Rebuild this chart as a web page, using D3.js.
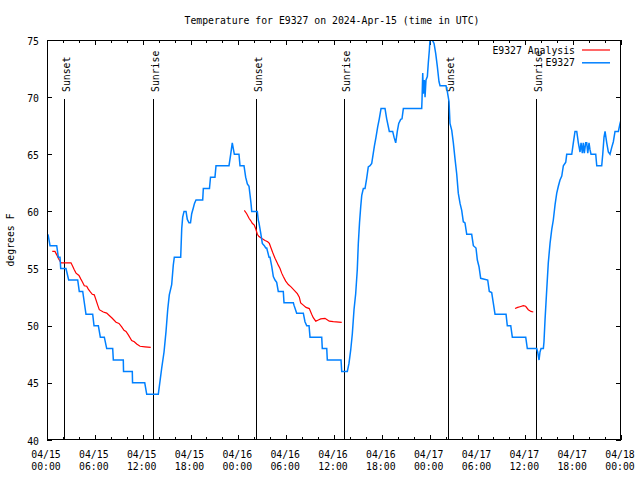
<!DOCTYPE html>
<html><head><meta charset="utf-8">
<script src="https://cdn.jsdelivr.net/npm/d3@7"></script>
<style>
body{margin:0;background:#fff}
svg text{font-family:"DejaVu Sans Mono",monospace;font-size:9.8px;fill:#000}
</style>
</head><body>
<svg id="chart" width="640" height="480"></svg>
<script>
const title = "Temperature for E9327 on 2024-Apr-15 (time in UTC)";
const yLabel = "degrees F";
const seriesNames = ["E9327 Analysis", "E9327"];
const seriesColors = ["#ff0000", "#0080ff"];

const xTickHours = [0, 6, 12, 18, 24, 30, 36, 42, 48, 54, 60, 66, 72];
const xTickDates = ["04/15","04/15","04/15","04/15","04/16","04/16","04/16","04/16","04/17","04/17","04/17","04/17","04/18"];
const xTickTimes = ["00:00","06:00","12:00","18:00","00:00","06:00","12:00","18:00","00:00","06:00","12:00","18:00","00:00"];
const xMinorHours = [2,4,8,10,14,16,20,22,26,28,32,34,38,40,44,46,50,52,56,58,62,64,68,70];
const yTicks = [40, 45, 50, 55, 60, 65, 70, 75];

const sunsetHours = [2.17, 26.22, 50.34];
const sunriseHours = [13.33, 37.3, 61.38];

// E9327 observations (hours since 04/15 00:00 UTC, deg F)
const obsHours = [0.13,0.38,1.22,1.42,1.63,1.72,2.38,2.72,3.85,4.05,4.48,4.89,5.73,5.9,6.44,6.69,7.19,7.49,8.24,8.32,9.57,9.6,10.7,10.73,12.26,12.51,13.96,
14.09,14.39,14.68,14.93,15.14,15.34,15.64,15.84,15.97,16.77,16.9,17.02,17.19,17.44,17.6,17.81,18.0,18.15,18.35,18.5,18.69,19.53,19.61,20.38,20.51,21.07,21.2,22.83,
23.04,23.24,23.37,23.5,24.08,24.21,24.71,24.92,25.13,25.34,25.46,25.59,25.68,26.38,26.51,26.59,26.81,27.01,27.26,27.43,27.56,27.85,27.97,28.19,28.39,28.6,28.81,29.01,
29.64,29.73,30.9,30.98,31.32,32.15,32.36,32.58,32.87,32.99,34.46,34.53,35.09,35.16,36.88,36.97,37.67,37.88,38.1,38.3,38.51,38.72,38.92,39.05,39.2,39.35,39.48,39.68,
39.89,40.1,40.3,40.52,40.73,40.93,41.06,41.27,41.48,41.68,41.9,42.4,42.61,42.94,43.36,43.53,43.74,43.94,44.12,44.37,44.53,44.7,47.0,47.04,47.13,47.2,47.33,47.42,
47.54,47.71,47.83,47.96,48.04,48.19,48.33,48.55,48.76,48.96,49.17,49.3,50.05,50.21,50.43,50.55,50.77,50.97,51.18,51.39,51.59,51.81,52.02,52.22,52.43,52.65,53.27,
53.48,53.81,53.98,54.19,54.4,55.28,55.48,55.78,55.98,56.2,57.58,57.74,58.17,58.37,60.05,60.25,61.43,61.55,61.72,61.84,61.97,62.26,62.34,62.47,62.68,62.88,63.1,
63.31,63.51,63.73,63.94,64.14,64.35,64.57,64.77,65.07,65.19,65.82,66.02,66.23,66.45,66.65,66.86,66.99,67.15,67.27,67.4,67.57,67.7,67.83,67.99,68.11,68.24,68.83,
68.96,69.58,69.71,69.87,70.0,70.21,70.41,70.62,70.84,71.04,71.25,71.67,71.88,72.0];
const obsTemps = [58,57,57,56,56,55,55,54,54,53,53,51,51,50,50,49,49,48,48,47,47,46,46,45,45,44,44,
44.7,46.3,47.7,49.5,51.4,52.7,53.6,55.3,56,56,58.5,59.5,60,60,59.3,59,59,59.8,60.3,60.7,61,61,62,62,63,63,64,64,
65,66,65.5,65,65,64,64,63,62.4,62.2,61.5,60.7,60,60,59.2,59,58.1,57.2,57,56.8,56.8,56,56,55.2,54.3,54,53.8,53,
53,52,52,51.8,51.1,51.1,50.35,50,50,49,49,48,48,47,47,46,46,46.7,47.9,49.3,51.4,52.8,54.9,57.2,59,60.4,61.4,62,
62,62.9,63.9,64,64.2,65.1,65.7,66.5,67.4,68.1,69,69,68.1,67,67,66.5,66,67,67.7,68.05,68.1,69,69,69.75,72.1,70.3,71.5,70,
71.5,71.8,73,74.1,75,76,75,74.7,73.8,72.7,71.35,71,71,70.5,69.6,67.7,67.1,66,64.6,63.3,61.6,60.7,60.1,59.1,59,58,58,
57,56.8,55.75,55.16,54.15,54,53,52.9,52,51,51,50,50,49,49,48,48,47.7,47,47.7,48,48,48.6,50.5,53.1,55.5,57.2,
58.4,59.25,60.6,61.6,62.2,62.75,63.1,64,64.3,65,65,66,67,67,66,65.2,66,65.1,66,65.1,66,66,65.1,66,65.4,65,65,
64,64,65,66.5,67,66,65.2,65,65.6,66.1,67,67,67.7,68];

// E9327 Analysis (null = gap between analysis runs)
const anaHours = [0.66,1.0,1.22,1.42,1.76,3.01,3.22,3.42,3.64,4.01,4.23,4.43,4.68,4.98,5.18,5.39,5.68,5.93,6.15,6.36,6.56,7.06,7.49,7.81,8.12,8.66,9.03,9.37,9.66,9.91,10.2,10.62,10.95,11.25,11.67,12.29,13.01,
null,
24.75,25.05,25.34,25.55,25.75,26.0,26.22,26.38,26.59,27.01,27.35,27.68,27.89,28.1,28.31,28.6,28.81,29.01,29.23,29.44,29.64,29.94,30.27,30.61,31.02,31.4,31.65,31.82,32.15,32.49,32.9,33.2,33.4,33.71,34.03,34.33,34.87,35.09,35.41,35.91,36.97,
null,
58.71,59.04,59.33,59.75,60.04,60.37,60.71,61.0];
const anaTemps = [56.5,56.5,56.2,55.9,55.5,55.5,55.2,54.9,54.6,54.4,54.1,53.85,53.5,53.45,53.2,53,52.75,52.7,52.25,51.8,51.4,51.2,51.1,50.9,50.7,50.3,50.2,49.9,49.6,49.5,49.2,48.7,48.6,48.4,48.2,48.15,48.1,
null,
60.1,59.8,59.4,59.2,58.96,58.8,58.4,58,57.8,57.6,57.45,57.35,57.2,56.8,56.4,55.9,55.6,55.3,55,54.6,54.3,53.9,53.6,53.4,53.1,52.8,52.5,52,51.8,51.6,51.5,51,50.7,50.4,50.5,50.6,50.65,50.55,50.4,50.35,50.3,
null,
51.5,51.6,51.66,51.75,51.7,51.4,51.25,51.2];

const L = 47, R = 621, T = 40, B = 440;
const svg = d3.select("#chart");
const x = d3.scaleLinear().domain([0, 72]).range([L, R]);
const y = d3.scaleLinear().domain([40, 75]).range([B, T]);

// title
svg.append("text").attr("x", 332).attr("y", 24).attr("text-anchor", "middle").text(title);
// y label
svg.append("text").attr("transform", "translate(13.5,240) rotate(-90)").attr("text-anchor", "middle").text(yLabel);

const clean = g => g.select(".domain").remove();
const axStyle = g => g.selectAll("line").attr("stroke", "#000").attr("shape-rendering", "crispEdges");

// axes ticks (inward)
svg.append("g").attr("transform", `translate(0,${B})`)
  .call(d3.axisBottom(x).tickValues(xTickHours).tickSize(-5).tickFormat(""))
  .call(clean).call(axStyle);
svg.append("g").attr("transform", `translate(0,${B})`)
  .call(d3.axisBottom(x).tickValues(xMinorHours).tickSize(-3).tickFormat(""))
  .call(clean).call(axStyle);
svg.append("g").attr("transform", `translate(0,${T})`)
  .call(d3.axisTop(x).tickValues(xTickHours).tickSize(-5).tickFormat(""))
  .call(clean).call(axStyle);
svg.append("g").attr("transform", `translate(0,${T})`)
  .call(d3.axisTop(x).tickValues(xMinorHours).tickSize(-3).tickFormat(""))
  .call(clean).call(axStyle);
svg.append("g").attr("transform", `translate(${L},0)`)
  .call(d3.axisLeft(y).tickValues(yTicks).tickSize(-5).tickFormat(""))
  .call(clean).call(axStyle);
svg.append("g").attr("transform", `translate(${R},0)`)
  .call(d3.axisRight(y).tickValues(yTicks).tickSize(-5).tickFormat(""))
  .call(clean).call(axStyle);

// x tick labels (two lines)
const xl = svg.append("g");
xTickHours.forEach((h, i) => {
  const t = xl.append("text").attr("text-anchor", "middle");
  t.append("tspan").attr("x", x(h) - 1).attr("y", 458).text(xTickDates[i]);
  t.append("tspan").attr("x", x(h) - 1).attr("y", 470).text(xTickTimes[i]);
});
// y tick labels
svg.append("g").selectAll("text").data(yTicks).join("text")
  .attr("x", 39).attr("y", d => y(d) + 4.5).attr("text-anchor", "end").text(d => d);

// sunrise / sunset markers
const sunEvents = sunsetHours.map(h => ({h, label: "Sunset"})).concat(sunriseHours.map(h => ({h, label: "Sunrise"})));
const sg = svg.append("g");
sunEvents.forEach(e => {
  const xp = Math.round(x(e.h)) + 0.5;
  sg.append("line").attr("x1", xp).attr("x2", xp).attr("y1", 99).attr("y2", B)
    .attr("stroke", "#000").attr("stroke-width", 1);
  sg.append("text").attr("transform", `translate(${xp + 5},92) rotate(-90)`).text(e.label);
});

// clip
svg.append("clipPath").attr("id", "plotclip").append("rect")
  .attr("x", L).attr("y", T).attr("width", R - L).attr("height", B - T);

const obs = obsHours.map((h, i) => ({h, t: obsTemps[i]}));
const ana = anaHours.map((h, i) => ({h, t: anaTemps[i]}));
const line = d3.line().defined(d => d.h != null && d.t != null).x(d => x(d.h)).y(d => y(d.t));

svg.append("path").datum(ana).attr("clip-path", "url(#plotclip)")
  .attr("fill", "none").attr("stroke", seriesColors[0]).attr("stroke-width", 1.2).attr("d", line);
svg.append("path").datum(obs).attr("clip-path", "url(#plotclip)")
  .attr("fill", "none").attr("stroke", seriesColors[1]).attr("stroke-width", 1.5).attr("d", line);

// frame
svg.append("rect").attr("x", L + 0.5).attr("y", T + 0.5).attr("width", R - L - 1).attr("height", B - T - 1)
  .attr("fill", "none").attr("stroke", "#000").attr("stroke-width", 1);

// legend
const lg = svg.append("g");
seriesNames.forEach((n, i) => {
  const yy = 50 + i * 12.8;
  lg.append("text").attr("x", 575).attr("y", yy + 3.5).attr("text-anchor", "end").text(n);
  lg.append("line").attr("x1", 582).attr("x2", 610).attr("y1", yy).attr("y2", yy)
    .attr("stroke", seriesColors[i]).attr("stroke-width", i === 0 ? 1.2 : 1.5);
});
</script>
</body></html>
